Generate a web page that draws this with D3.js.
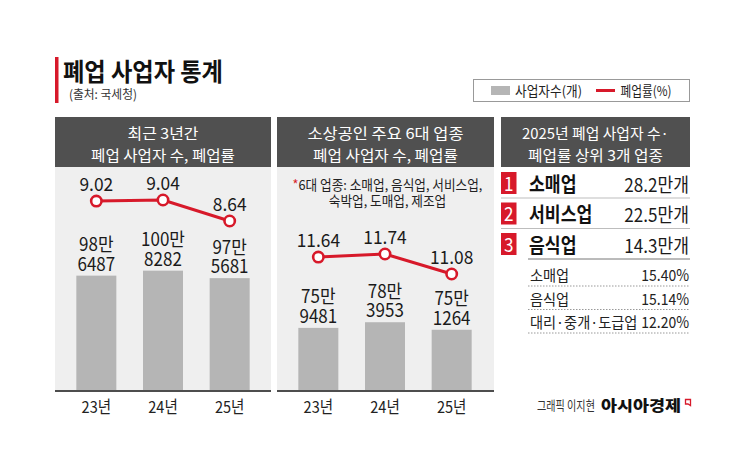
<!DOCTYPE html>
<html><head><meta charset="utf-8">
<script src="https://cdn.jsdelivr.net/npm/d3@7"></script>
<style>
html,body{margin:0;padding:0;background:#fff;}
svg{display:block;font-family:"Noto Sans CJK KR","Noto Sans",sans-serif;}
</style></head>
<body>
<svg id="chart" width="745" height="474"></svg>
<script>
// ---- data ----
const years = ["23년", "24년", "25년"];
const totalCounts = [986487, 1008282, 975681];     // 폐업 사업자 수 (개)
const totalRates = [9.02, 9.04, 8.64];             // 폐업률 (%)
const smbCounts = [759481, 783953, 751264];        // 소상공인 주요 6대 업종
const smbRates = [11.64, 11.74, 11.08];
const topNames = ["소매업", "서비스업", "음식업"];
const topCounts = [28.2, 22.5, 14.3];              // 만개
const rateNames = ["소매업", "음식업", "대리·중개·도급업"];
const rateValues = [15.40, 15.14, 12.20];          // %

const RED = "#d7192a", HEAD = "#505050", BG = "#efefef", BAR = "#b5b5b5";
const svg = d3.select("#chart");

// text with fixed horizontal condensation
function txt(g, x, y, s, o = {}) {
  return g.append("text")
    .attr("transform", `translate(${x},${y}) scale(${o.sx ?? 0.9},1)`)
    .attr("font-size", o.size ?? 14)
    .attr("font-weight", o.weight ?? 400)
    .attr("fill", o.fill ?? "#222")
    .attr("text-anchor", o.anchor ?? "middle")
    .text(s);
}
// text condensed to a given width
function fit(g, x, y, s, width, o = {}) {
  const t = g.append("text")
    .attr("font-size", o.size ?? 14)
    .attr("font-weight", o.weight ?? 400)
    .attr("fill", o.fill ?? "#222")
    .attr("text-anchor", o.anchor ?? "middle")
    .text(s);
  const w = t.node().getComputedTextLength();
  t.attr("transform", `translate(${x},${y}) scale(${width / w},1)`);
  return t;
}

// ---- title ----
svg.append("rect").attr("x", 55).attr("y", 57).attr("width", 3.5).attr("height", 46).attr("fill", RED);
fit(svg, 63, 81, "폐업 사업자 통계", 160, {size: 24.5, weight: 700, fill: "#111", anchor: "start"});
fit(svg, 69, 98.5, "(출처: 국세청)", 68, {size: 12.5, fill: "#333", anchor: "start"});

// ---- legend ----
const lg = svg.append("g");
lg.append("rect").attr("x", 473.5).attr("y", 79.5).attr("width", 216).attr("height", 22)
  .attr("fill", "#fff").attr("stroke", "#999");
lg.append("rect").attr("x", 491).attr("y", 86).attr("width", 19).attr("height", 9).attr("fill", BAR);
fit(lg, 515, 95.5, "사업자수(개)", 67, {size: 13.5, anchor: "start"});
lg.append("line").attr("x1", 596).attr("x2", 615).attr("y1", 90.5).attr("y2", 90.5)
  .attr("stroke", RED).attr("stroke-width", 3);
fit(lg, 620.5, 95.5, "폐업률(%)", 51, {size: 13.5, anchor: "start"});

// ---- shared scales ----
const headTop = 117, headBot = 167, axisY = 391;
const yCount = d3.scaleLinear().domain([485000, 1010000]).range([axisY, axisY - 2.3 * 52.5]);

function panel(x0, w, titleLines, titleWidths, counts, rates, rateScale, note) {
  const g = svg.append("g");
  g.append("rect").attr("x", x0).attr("y", headTop).attr("width", w).attr("height", headBot - headTop).attr("fill", HEAD);
  g.append("rect").attr("x", x0).attr("y", headBot).attr("width", w).attr("height", axisY - headBot).attr("fill", BG);
  titleLines.forEach((s, i) => fit(g, x0 + w / 2, 139 + i * 21.5, s, titleWidths[i], {size: 15, fill: "#fff"}));

  const xb = d3.scaleBand().domain(years).range([x0 + 8, x0 + 208]).paddingInner(0.4).paddingOuter(0.2);
  const cx = d => xb(d) + xb.bandwidth() / 2;

  g.selectAll(".bar").data(counts).join("rect").attr("class", "bar")
    .attr("x", (d, i) => xb(years[i])).attr("width", xb.bandwidth())
    .attr("y", d => yCount(d)).attr("height", d => axisY - yCount(d)).attr("fill", BAR);

  counts.forEach((d, i) => {
    const man = Math.floor(d / 10000) + "만";
    const rest = String(d % 10000).padStart(4, "0");
    const t = g.append("text")
      .attr("transform", `translate(${cx(years[i])},${yCount(d) - 5}) scale(0.92,1)`)
      .attr("font-size", 18.5).attr("fill", "#1a1a1a").attr("text-anchor", "middle");
    t.append("tspan").attr("x", 0).attr("y", -19.5).text(man);
    t.append("tspan").attr("x", 0).attr("y", 0).text(rest);
  });

  // axis
  const ax = g.append("g").attr("transform", `translate(0,${axisY})`)
    .call(d3.axisBottom(xb).tickSize(0).tickPadding(14));
  ax.select(".domain").remove();
  ax.selectAll(".tick text")
    .attr("font-family", "'Noto Sans CJK KR', sans-serif")
    .attr("font-size", 16.5).attr("fill", "#222")
    .attr("dy", null).attr("y", 22)
    .attr("transform", "scale(0.88,1)");
  g.append("line").attr("x1", x0).attr("x2", x0 + w).attr("y1", axisY).attr("y2", axisY)
    .attr("stroke", "#4d4d4d").attr("stroke-width", 2);

  // line
  const line = d3.line().x((d, i) => cx(years[i])).y(d => rateScale(d));
  g.append("path").datum(rates).attr("d", line).attr("fill", "none")
    .attr("stroke", RED).attr("stroke-width", 3);
  g.selectAll(".pt").data(rates).join("circle").attr("class", "pt")
    .attr("cx", (d, i) => cx(years[i])).attr("cy", d => rateScale(d)).attr("r", 5.2)
    .attr("fill", "#fff").attr("stroke", RED).attr("stroke-width", 2.6);
  rates.forEach((d, i) => txt(g, cx(years[i]), rateScale(d) - 10.5, d.toFixed(2),
    {size: 18.5, fill: "#1a1a1a", sx: 0.94}));

  if (note) {
    const t = g.append("text").attr("font-size", 13.5).attr("text-anchor", "middle").attr("fill", "#222");
    const l1 = t.append("tspan").attr("x", 0).attr("y", 0);
    l1.append("tspan").attr("fill", RED).text("*");
    l1.append("tspan").text(note[0]);
    t.append("tspan").attr("x", 0).attr("y", 16).text(note[1]);
    const nat = l1.node().getComputedTextLength();
    t.attr("transform", `translate(${x0 + w / 2 + 2},190) scale(${190 / nat},1)`);
  }
}

const rate1 = d3.scaleLinear().domain([8.64, 9.04]).range([221, 200]);
const rate2 = d3.scaleLinear().domain([11.08, 11.74]).range([274, 254]);
panel(55, 216, ["최근 3년간", "폐업 사업자 수, 폐업률"], [71, 144], totalCounts, totalRates, rate1, null);
panel(277, 217, ["소상공인 주요 6대 업종", "폐업 사업자 수, 폐업률"], [156, 145], smbCounts, smbRates, rate2,
  ["6대 업종: 소매업, 음식업, 서비스업,", "숙박업, 도매업, 제조업"]);

// ---- panel 3 ----
const p3 = svg.append("g");
const p3x = 501, p3w = 189;
p3.append("rect").attr("x", p3x).attr("y", headTop).attr("width", p3w).attr("height", headBot - headTop).attr("fill", HEAD);
fit(p3, p3x + p3w / 2, 139, "2025년 폐업 사업자 수·", 147, {size: 15, fill: "#fff"});
fit(p3, p3x + p3w / 2, 160.5, "폐업률 상위 3개 업종", 135, {size: 15, fill: "#fff"});

const rowH = 30.5, row0 = 168;
topNames.forEach((name, i) => {
  const yc = row0 + rowH * i + 15;
  p3.append("rect").attr("x", p3x).attr("y", yc - 11).attr("width", 15.5).attr("height", 22).attr("fill", RED);
  txt(p3, p3x + 7.8, yc + 7.5, String(i + 1), {size: 19, fill: "#fff", sx: 0.9});
  txt(p3, 529, yc + 8.5, name, {size: 20, weight: 700, fill: "#111", anchor: "start", sx: 0.86});
  txt(p3, 689, yc + 8.5, topCounts[i].toFixed(1) + "만개", {size: 19, fill: "#1a1a1a", anchor: "end", sx: 0.9});
  p3.append("line").attr("x1", i < 2 ? p3x : 528).attr("x2", 690)
    .attr("y1", row0 + rowH * (i + 1) - 0.5).attr("y2", row0 + rowH * (i + 1) - 0.5)
    .attr("stroke", i < 2 ? "#bdbdbd" : "#777").attr("stroke-width", 1);
});
const sRow0 = 260, sRowH = 23.5;
rateNames.forEach((name, i) => {
  const yb = sRow0 + sRowH * i + 21;
  txt(p3, 530, yb, name, {size: 14.5, fill: "#222", anchor: "start", sx: 0.98});
  txt(p3, 689, yb, rateValues[i].toFixed(2) + "%", {size: 15.5, fill: "#222", anchor: "end", sx: 0.9});
  const ly = sRow0 + sRowH * (i + 1) + 2.5;
  p3.append("line").attr("x1", 528).attr("x2", 690).attr("y1", ly).attr("y2", ly)
    .attr("stroke", "#999").attr("stroke-width", 1).attr("stroke-dasharray", "1.5,1.5");
});

// ---- footer ----
fit(svg, 537, 410, "그래픽 이지현", 58, {size: 13, fill: "#333", anchor: "start"});
fit(svg, 601, 411, "아시아경제", 80, {size: 14.5, weight: 900, fill: "#111", anchor: "start"});
svg.append("path").attr("d", "M685.5,399.5 h5 v6 l-2.5,-1.5 h-2.5 z").attr("fill", "none")
  .attr("stroke", RED).attr("stroke-width", 1.3);
</script>
</body></html>
